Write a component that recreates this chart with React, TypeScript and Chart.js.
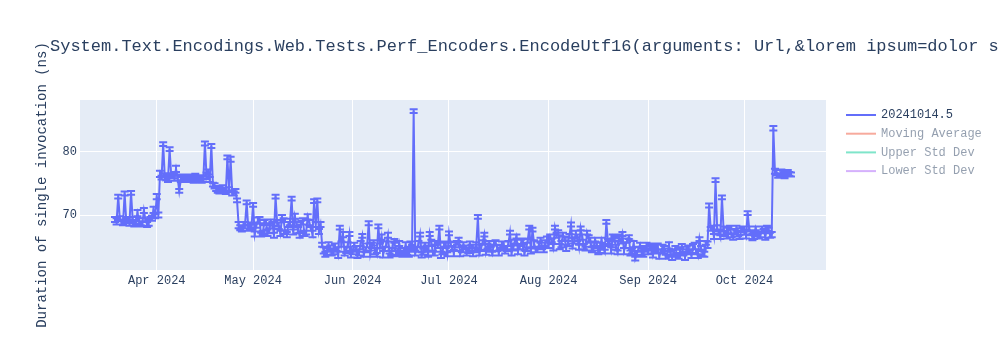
import { useEffect, useRef } from "react";
import { Chart, registerables } from "chart.js";

Chart.register(...registerables);

const TITLE = "System.Text.Encodings.Web.Tests.Perf_Encoders.EncodeUtf16(arguments: Url,&lorem ipsum=dolor s";
const Y_TITLE = "Duration of single invocation (ns)";

const SERIES_LABELS = ["20241014.5", "Moving Average", "Upper Std Dev", "Lower Std Dev"];
const SERIES_COLORS = ["#636efa", "#EF553B", "#00cc96", "#ab63fa"];
const SERIES_VISIBLE = [true, false, false, false];

const X_TICK_DATES = ["2024-04-01", "2024-05-01", "2024-06-01", "2024-07-01", "2024-08-01", "2024-09-01", "2024-10-01"];
const X_TICK_LABELS = ["Apr 2024", "May 2024", "Jun 2024", "Jul 2024", "Aug 2024", "Sep 2024", "Oct 2024"];
const Y_TICKS = [70, 80];

// one run at 00:00 and one at 12:00 for each date
const DATES = [
  "2024-03-19", "2024-03-20", "2024-03-21", "2024-03-22", "2024-03-23", "2024-03-24", "2024-03-25", "2024-03-26", "2024-03-27", "2024-03-28", "2024-03-29", "2024-03-30", "2024-03-31",
  "2024-04-01", "2024-04-02", "2024-04-03", "2024-04-04", "2024-04-05", "2024-04-06", "2024-04-07", "2024-04-08", "2024-04-09", "2024-04-10",
  "2024-04-11", "2024-04-12", "2024-04-13", "2024-04-14", "2024-04-15", "2024-04-16", "2024-04-17", "2024-04-18", "2024-04-19", "2024-04-20",
  "2024-04-21", "2024-04-22", "2024-04-23", "2024-04-24", "2024-04-25", "2024-04-26", "2024-04-27", "2024-04-28", "2024-04-29", "2024-04-30",
  "2024-05-01", "2024-05-02", "2024-05-03", "2024-05-04", "2024-05-05", "2024-05-06", "2024-05-07", "2024-05-08", "2024-05-09", "2024-05-10",
  "2024-05-11", "2024-05-12", "2024-05-13", "2024-05-14", "2024-05-15", "2024-05-16", "2024-05-17", "2024-05-18", "2024-05-19", "2024-05-20",
  "2024-05-21", "2024-05-22", "2024-05-23", "2024-05-24", "2024-05-25", "2024-05-26", "2024-05-27", "2024-05-28", "2024-05-29", "2024-05-30",
  "2024-05-31",
  "2024-06-01", "2024-06-02", "2024-06-03", "2024-06-04", "2024-06-05", "2024-06-06", "2024-06-07", "2024-06-08", "2024-06-09", "2024-06-10",
  "2024-06-11", "2024-06-12", "2024-06-13", "2024-06-14", "2024-06-15", "2024-06-16", "2024-06-17", "2024-06-18", "2024-06-19", "2024-06-20",
  "2024-06-21", "2024-06-22", "2024-06-23", "2024-06-24", "2024-06-25", "2024-06-26", "2024-06-27", "2024-06-28", "2024-06-29", "2024-06-30",
  "2024-07-01", "2024-07-02", "2024-07-03", "2024-07-04", "2024-07-05", "2024-07-06", "2024-07-07", "2024-07-08", "2024-07-09", "2024-07-10",
  "2024-07-11", "2024-07-12", "2024-07-13", "2024-07-14", "2024-07-15", "2024-07-16", "2024-07-17", "2024-07-18", "2024-07-19", "2024-07-20",
  "2024-07-21", "2024-07-22", "2024-07-23", "2024-07-24", "2024-07-25", "2024-07-26", "2024-07-27", "2024-07-28", "2024-07-29", "2024-07-30",
  "2024-07-31",
  "2024-08-01", "2024-08-02", "2024-08-03", "2024-08-04", "2024-08-05", "2024-08-06", "2024-08-07", "2024-08-08", "2024-08-09", "2024-08-10",
  "2024-08-11", "2024-08-12", "2024-08-13", "2024-08-14", "2024-08-15", "2024-08-16", "2024-08-17", "2024-08-18", "2024-08-19", "2024-08-20",
  "2024-08-21", "2024-08-22", "2024-08-23", "2024-08-24", "2024-08-25", "2024-08-26", "2024-08-27", "2024-08-28", "2024-08-29", "2024-08-30",
  "2024-08-31",
  "2024-09-01", "2024-09-02", "2024-09-03", "2024-09-04", "2024-09-05", "2024-09-06", "2024-09-07", "2024-09-08", "2024-09-09", "2024-09-10",
  "2024-09-11", "2024-09-12", "2024-09-13", "2024-09-14", "2024-09-15", "2024-09-16", "2024-09-17", "2024-09-18", "2024-09-19", "2024-09-20",
  "2024-09-21", "2024-09-22", "2024-09-23", "2024-09-24", "2024-09-25", "2024-09-26", "2024-09-27", "2024-09-28", "2024-09-29", "2024-09-30",
  "2024-10-01", "2024-10-02", "2024-10-03", "2024-10-04", "2024-10-05", "2024-10-06", "2024-10-07", "2024-10-08", "2024-10-09", "2024-10-10",
  "2024-10-11", "2024-10-12", "2024-10-13", "2024-10-14", "2024-10-15",
];

// runs at 00:00
const VALUES_AM = [
  69.3, 72.9, 68.9, 73.4, 69.2, 73.5, 68.6, 70.3, 68.7, 70.7, 68.5, 69.4, 70.8,
  72.9, 76.5, 81.2, 75.9, 80.4, 76.2, 77.3, 73.8, 75.9, 75.5,
  75.8, 75.7, 76.0, 75.6, 75.4, 81.3, 76.8, 80.9, 74.6, 74.0,
  73.7, 73.9, 79.1, 78.8, 73.4, 72.3, 68.0, 68.4, 72.0, 68.1,
  71.6, 68.4, 69.2, 67.2, 68.9, 67.5, 68.6, 72.9, 68.3, 69.6,
  67.3, 68.5, 72.6, 69.8, 67.6, 68.8, 67.1, 69.7, 67.8, 72.2,
  72.3, 68.5, 64.4, 64.0, 64.8, 64.2, 64.6, 68.0, 66.9, 64.5,
  67.0,
  64.2, 64.8, 64.1, 66.7, 64.5, 68.7, 65.2, 64.3, 68.2, 66.5,
  64.6, 66.8, 64.0, 65.9, 64.2, 63.9, 64.5, 64.1, 65.4, 86.4,
  64.6, 66.9, 64.2, 64.8, 67.0, 64.0, 65.6, 68.0, 64.3, 65.2,
  67.1, 64.7, 65.3, 66.1, 64.6, 64.9, 64.4, 65.0, 64.5, 69.7,
  64.8, 66.9, 65.1, 64.6, 65.6, 64.8, 64.9, 65.4, 64.7, 67.2,
  64.8, 66.6, 65.0, 65.8, 64.6, 68.0, 67.7, 64.5, 65.3, 64.9,
  65.6,
  65.2, 66.0, 68.0, 67.2, 65.4, 66.3, 65.5, 68.5, 65.9, 66.4,
  67.9, 65.0, 67.2, 66.0, 64.8, 65.4, 64.5, 64.9, 68.9, 65.5,
  66.6, 64.9, 66.4, 67.0, 65.2, 66.5, 64.3, 63.1, 64.6, 64.2,
  64.8,
  64.1, 64.9, 64.6, 65.0, 64.3, 64.7, 64.0, 63.8, 64.2, 63.7,
  64.4, 63.9, 64.6, 64.1, 65.0, 64.2, 66.2, 64.0, 65.6, 71.5,
  67.9, 75.5, 67.3, 72.8, 67.1, 67.5, 66.8, 67.4, 67.0, 67.6,
  67.3, 70.3, 67.2, 66.7, 67.0, 66.9, 67.5, 67.9, 66.8, 83.7,
  76.7, 76.3, 76.6, 76.4, 76.5,
];

// runs at 12:00
const VALUES_PM = [
  69.0, 69.4, 68.7, 69.1, 68.8, 69.3, 68.9, 69.0, 68.6, 69.2, 68.8, 69.5, 69.8,
  70.0, 75.9, 76.1, 75.6, 76.3, 75.8, 75.9, 75.6, 76.1, 75.7,
  75.9, 75.5, 75.8, 76.0, 75.7, 76.2, 75.6, 74.8, 74.2, 73.8,
  74.2, 73.6, 74.0, 73.5, 73.8, 68.4, 67.8, 68.6, 67.9, 68.3,
  67.0, 69.1, 66.9, 68.8, 67.2, 69.0, 66.8, 68.7, 67.1, 69.2,
  66.9, 68.9, 67.3, 68.6, 66.8, 69.0, 67.2, 68.8, 67.0, 68.5,
  67.4, 65.3, 63.8, 65.2, 63.9, 65.1, 63.7, 65.4, 63.9, 65.3,
  63.8,
  65.3, 63.7, 65.5, 63.8, 65.2, 63.9, 65.6, 63.7, 65.1, 63.8,
  65.4, 63.6, 65.3, 63.9, 65.5, 63.7, 65.2, 63.8, 65.0, 64.0,
  65.4, 63.7, 65.3, 63.8, 65.6, 63.9, 65.2, 63.7, 65.4, 63.8,
  65.4, 64.0, 65.6, 63.9, 65.3, 64.1, 65.5, 63.9, 65.2, 64.0,
  65.7, 64.1, 65.4, 63.9, 65.6, 64.0, 65.3, 64.2, 65.5, 64.1,
  65.8, 64.2, 65.6, 64.0, 65.9, 64.3, 65.5, 64.4, 66.0, 64.5,
  66.1,
  66.6, 64.9, 66.8, 65.0, 66.9, 64.8, 66.7, 65.1, 67.0, 64.9,
  66.5, 64.7, 66.3, 64.5, 66.1, 64.3, 66.0, 64.2, 65.8, 64.4,
  66.2, 64.1, 65.9, 64.3, 66.0, 64.0, 65.4, 63.9, 65.3, 63.8,
  65.1,
  65.1, 63.6, 65.0, 63.5, 64.9, 63.4, 65.2, 63.3, 64.8, 63.5,
  65.0, 63.4, 64.9, 63.6, 65.1, 63.5, 64.7, 63.8, 65.3, 67.8,
  66.6, 67.9, 66.5, 67.8, 66.7, 68.0, 66.6, 67.9, 66.5, 67.8,
  66.6, 67.8, 66.5, 67.9, 66.7, 67.8, 66.6, 67.7, 66.9, 76.9,
  76.2, 76.8, 76.1, 76.7, 76.4,
];

const ERRORS_AM = [
  0.4, 0.3, 0.4, 0.3, 0.5, 0.3, 0.4, 0.5, 0.3, 0.4, 0.4, 0.3, 0.5,
  0.4, 0.5, 0.3, 0.4, 0.3, 0.4, 0.5, 0.3, 0.4, 0.3,
  0.4, 0.3, 0.5, 0.4, 0.3, 0.3, 0.4, 0.3, 0.4, 0.5,
  0.3, 0.4, 0.3, 0.4, 0.3, 0.3, 0.4, 0.5, 0.3, 0.4,
  0.3, 0.4, 0.5, 0.3, 0.4, 0.4, 0.3, 0.3, 0.5, 0.4,
  0.3, 0.4, 0.3, 0.4, 0.5, 0.3, 0.4, 0.4, 0.3, 0.3,
  0.3, 0.4, 0.5, 0.3, 0.4, 0.4, 0.3, 0.3, 0.4, 0.5,
  0.3,
  0.4, 0.3, 0.5, 0.3, 0.4, 0.3, 0.4, 0.5, 0.3, 0.4,
  0.3, 0.4, 0.4, 0.3, 0.5, 0.4, 0.3, 0.4, 0.4, 0.3,
  0.4, 0.3, 0.5, 0.4, 0.3, 0.4, 0.3, 0.3, 0.5, 0.4,
  0.3, 0.4, 0.4, 0.3, 0.5, 0.3, 0.4, 0.3, 0.4, 0.3,
  0.5, 0.3, 0.4, 0.4, 0.3, 0.5, 0.3, 0.4, 0.4, 0.3,
  0.4, 0.3, 0.4, 0.5, 0.3, 0.3, 0.3, 0.4, 0.5, 0.3,
  0.4,
  0.4, 0.3, 0.3, 0.4, 0.5, 0.3, 0.4, 0.3, 0.4, 0.5,
  0.3, 0.4, 0.3, 0.4, 0.4, 0.3, 0.5, 0.4, 0.3, 0.4,
  0.3, 0.4, 0.5, 0.3, 0.4, 0.3, 0.4, 0.3, 0.4, 0.5,
  0.3,
  0.3, 0.4, 0.4, 0.5, 0.3, 0.4, 0.3, 0.4, 0.4, 0.3,
  0.5, 0.3, 0.4, 0.3, 0.4, 0.4, 0.3, 0.5, 0.3, 0.3,
  0.4, 0.3, 0.4, 0.3, 0.4, 0.5, 0.3, 0.4, 0.4, 0.3,
  0.4, 0.3, 0.4, 0.5, 0.3, 0.4, 0.3, 0.4, 0.4, 0.35,
  0.4, 0.3, 0.4, 0.3, 0.3,
];

const ERRORS_PM = [
  0.5, 0.4, 0.3, 0.4, 0.5, 0.4, 0.3, 0.5, 0.4, 0.3, 0.5, 0.4, 0.3,
  0.4, 0.3, 0.5, 0.4, 0.3, 0.4, 0.5, 0.4, 0.3, 0.4,
  0.5, 0.4, 0.3, 0.3, 0.4, 0.5, 0.4, 0.3, 0.4, 0.4,
  0.5, 0.3, 0.4, 0.4, 0.3, 0.5, 0.4, 0.3, 0.4, 0.5,
  0.4, 0.5, 0.3, 0.4, 0.5, 0.3, 0.4, 0.5, 0.4, 0.3,
  0.4, 0.5, 0.4, 0.3, 0.4, 0.5, 0.3, 0.4, 0.5, 0.4,
  0.4, 0.3, 0.4, 0.5, 0.3, 0.4, 0.5, 0.4, 0.3, 0.4,
  0.5,
  0.3, 0.5, 0.4, 0.4, 0.3, 0.5, 0.4, 0.3, 0.4, 0.5,
  0.4, 0.3, 0.5, 0.4, 0.4, 0.3, 0.5, 0.4, 0.3, 0.4,
  0.5, 0.4, 0.3, 0.4, 0.5, 0.3, 0.4, 0.5, 0.4, 0.3,
  0.4, 0.5, 0.3, 0.4, 0.4, 0.5, 0.3, 0.4, 0.5, 0.4,
  0.3, 0.4, 0.5, 0.3, 0.4, 0.4, 0.5, 0.3, 0.4, 0.5,
  0.3, 0.4, 0.5, 0.4, 0.3, 0.4, 0.5, 0.3, 0.4, 0.4,
  0.5,
  0.3, 0.5, 0.4, 0.4, 0.3, 0.5, 0.3, 0.4, 0.5, 0.4,
  0.4, 0.3, 0.5, 0.4, 0.3, 0.5, 0.4, 0.3, 0.4, 0.5,
  0.4, 0.3, 0.4, 0.5, 0.3, 0.4, 0.5, 0.4, 0.3, 0.4,
  0.5,
  0.4, 0.3, 0.5, 0.4, 0.4, 0.3, 0.5, 0.4, 0.3, 0.4,
  0.4, 0.5, 0.3, 0.4, 0.5, 0.3, 0.4, 0.4, 0.5, 0.3,
  0.4, 0.5, 0.3, 0.4, 0.4, 0.3, 0.5, 0.4, 0.3, 0.4,
  0.3, 0.4, 0.5, 0.3, 0.4, 0.4, 0.5, 0.3, 0.4, 0.4,
  0.3, 0.4, 0.3, 0.4, 0.3,
];

const FONT = '"Liberation Mono", "Courier New", monospace';
const TEXT_COLOR = "#2a3f5f";

const dayOf = (s: string) => {
  const [y, m, d] = s.split("-").map(Number);
  return (Date.UTC(y, m - 1, d) - Date.UTC(2024, 0, 1)) / 86400000;
};

// interleave the two daily runs in time order
const SAMPLES: { x: number; y: number; err: number }[] = [];
DATES.forEach((d, i) => {
  SAMPLES.push({ x: dayOf(d), y: VALUES_AM[i], err: ERRORS_AM[i] });
  SAMPLES.push({ x: dayOf(d) + 0.5, y: VALUES_PM[i], err: ERRORS_PM[i] });
});

const plotBackground = {
  id: "plotBackground",
  beforeDraw(chart: any) {
    const { ctx, chartArea } = chart;
    ctx.save();
    ctx.fillStyle = "#ffffff";
    ctx.fillRect(0, 0, chart.width, chart.height);
    ctx.fillStyle = "#E5ECF6";
    ctx.fillRect(chartArea.left, chartArea.top, chartArea.right - chartArea.left, chartArea.bottom - chartArea.top);
    ctx.restore();
  },
};

const errorBars = {
  id: "errorBars",
  afterDatasetsDraw(chart: any) {
    const { ctx, chartArea } = chart;
    const yScale = chart.scales.y;
    const meta = chart.getDatasetMeta(0);
    ctx.save();
    ctx.beginPath();
    ctx.rect(chartArea.left, chartArea.top, chartArea.right - chartArea.left, chartArea.bottom - chartArea.top);
    ctx.clip();
    ctx.strokeStyle = SERIES_COLORS[0];
    ctx.lineWidth = 2;
    ctx.beginPath();
    meta.data.forEach((pt: any, i: number) => {
      const s = SAMPLES[i];
      const px = pt.x;
      const top = yScale.getPixelForValue(s.y + s.err);
      const bot = yScale.getPixelForValue(s.y - s.err);
      ctx.moveTo(px, top);
      ctx.lineTo(px, bot);
      ctx.moveTo(px - 4, top);
      ctx.lineTo(px + 4, top);
      ctx.moveTo(px - 4, bot);
      ctx.lineTo(px + 4, bot);
    });
    ctx.stroke();
    ctx.restore();
  },
};

const titleAndLegend = {
  id: "titleAndLegend",
  afterDraw(chart: any) {
    const { ctx, chartArea } = chart;
    ctx.save();
    ctx.fillStyle = TEXT_COLOR;
    ctx.font = `17px ${FONT}`;
    ctx.textBaseline = "middle";
    ctx.textAlign = "left";
    ctx.fillText(TITLE, 50, 46);

    ctx.font = `12px ${FONT}`;
    chart.data.datasets.forEach((ds: any, i: number) => {
      const yc = chartArea.top + 15 + i * 18.7;
      const x0 = chartArea.right + 20;
      ctx.globalAlpha = SERIES_VISIBLE[i] ? 1 : 0.5;
      ctx.strokeStyle = SERIES_COLORS[i];
      ctx.lineWidth = 2;
      ctx.beginPath();
      ctx.moveTo(x0, yc);
      ctx.lineTo(x0 + 30, yc);
      ctx.stroke();
      ctx.fillStyle = TEXT_COLOR;
      ctx.fillText(ds.label, x0 + 35, yc);
    });
    ctx.restore();
  },
};

export default function App() {
  const canvasRef = useRef<HTMLCanvasElement | null>(null);

  useEffect(() => {
    if (!canvasRef.current) return;
    const points = SAMPLES.map((s) => ({ x: s.x, y: s.y }));
    const chart = new Chart(canvasRef.current, {
      type: "line",
      data: {
        datasets: SERIES_LABELS.map((label, i) => ({
          label,
          data: i === 0 ? points : [],
          borderColor: SERIES_COLORS[i],
          backgroundColor: SERIES_COLORS[i],
          borderWidth: 2,
          pointRadius: 0,
          tension: 0,
          fill: false,
          hidden: !SERIES_VISIBLE[i],
        })),
      },
      options: {
        animation: false,
        responsive: false,
        events: [],
        layout: { padding: { left: 0, right: 174, top: 100, bottom: 0 } },
        plugins: {
          legend: { display: false },
          title: { display: false },
          tooltip: { enabled: false },
        },
        scales: {
          x: {
            type: "linear",
            min: dayOf("2024-03-08") + 0.1,
            max: dayOf("2024-10-26") + 0.4,
            grid: { color: "#ffffff", lineWidth: 1, drawTicks: false },
            border: { display: false },
            afterBuildTicks: (scale: any) => {
              scale.ticks = X_TICK_DATES.map((d) => ({ value: dayOf(d) }));
            },
            afterFit: (scale: any) => {
              scale.height = 80;
            },
            ticks: {
              autoSkip: false,
              maxRotation: 0,
              padding: 4,
              color: TEXT_COLOR,
              font: { family: FONT, size: 12 },
              callback: (value: any) => {
                const idx = X_TICK_DATES.findIndex((d) => dayOf(d) === value);
                return idx >= 0 ? X_TICK_LABELS[idx] : "";
              },
            },
          },
          y: {
            type: "linear",
            min: 61.31,
            max: 88.17,
            grid: { color: "#ffffff", lineWidth: 1, drawTicks: false },
            border: { display: false },
            afterBuildTicks: (scale: any) => {
              scale.ticks = Y_TICKS.map((v) => ({ value: v }));
            },
            afterFit: (scale: any) => {
              scale.width = 80;
            },
            ticks: {
              padding: 3,
              color: TEXT_COLOR,
              font: { family: FONT, size: 12 },
            },
            title: {
              display: true,
              text: Y_TITLE,
              color: TEXT_COLOR,
              font: { family: FONT, size: 14, lineHeight: 1.2 },
              padding: { top: 33.6, bottom: 0 },
            },
          },
        },
      },
      plugins: [plotBackground, errorBars, titleAndLegend],
    } as any);
    return () => chart.destroy();
  }, []);

  return (
    <div style={{ position: "absolute", left: 0, top: 0, width: 1000, height: 350 }}>
      <canvas ref={canvasRef} width={1000} height={350} />
    </div>
  );
}
